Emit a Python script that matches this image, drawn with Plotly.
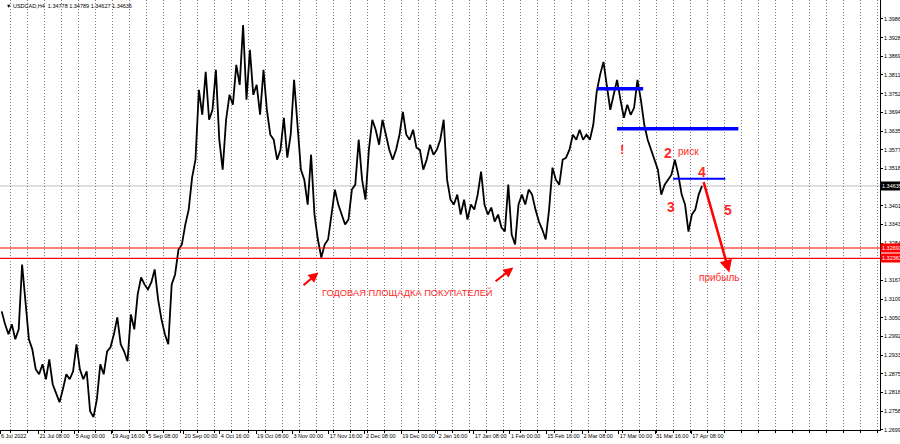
import plotly.graph_objects as go

# ---------------- data ----------------
# one sample per trading day (6 H4 bars), USDCAD H4
closes = [
    1.30706, 1.30299, 1.29987, 1.30299, 1.29831, 1.30143, 1.32175, 1.31081, 1.29831, 1.29518,
    1.28893, 1.28736, 1.29049, 1.28580, 1.29205, 1.28424, 1.28111, 1.27861, 1.28268, 1.28736,
    1.28580, 1.28830, 1.29674, 1.28893, 1.28580, 1.28830, 1.27580, 1.27392, 1.27955, 1.29049,
    1.28736, 1.29455, 1.29581, 1.29987, 1.30518, 1.29674, 1.29455, 1.29143, 1.30612, 1.30143,
    1.31237, 1.31769, 1.31550, 1.31394, 1.31612, 1.32019, 1.31081, 1.30456, 1.29987, 1.29674,
    1.31550, 1.31862, 1.32644, 1.32800, 1.33425, 1.33894, 1.34895, 1.35457, 1.37646, 1.36864,
    1.38208, 1.36708, 1.37020, 1.38271, 1.36083, 1.35145, 1.36708, 1.37489, 1.37177, 1.38427,
    1.37802, 1.39677, 1.37333, 1.38896, 1.37489, 1.37802, 1.36864, 1.38271, 1.37020, 1.36239,
    1.36083, 1.35457, 1.35770, 1.36770, 1.35520, 1.36239, 1.37958, 1.36395, 1.35145, 1.34832,
    1.34051, 1.35614, 1.33738, 1.32957, 1.32394, 1.32800, 1.32957, 1.33738, 1.34520, 1.34051,
    1.33738, 1.33425, 1.33582, 1.34520, 1.34676, 1.36083, 1.34832, 1.34207, 1.35770, 1.36708,
    1.36395, 1.35926, 1.36708, 1.36239, 1.35770, 1.35457, 1.35770, 1.36239, 1.36958, 1.36239,
    1.36083, 1.36395, 1.35833, 1.35770, 1.35145, 1.35457, 1.35926, 1.35614, 1.35770, 1.36083,
    1.36708, 1.34832, 1.34207, 1.34051, 1.34363, 1.33738, 1.34207, 1.33582, 1.34051, 1.33894,
    1.34363, 1.35082, 1.34051, 1.33738, 1.33957, 1.33519, 1.33738, 1.33332, 1.33207, 1.34676,
    1.33113, 1.32800, 1.34051, 1.34363, 1.34051, 1.34520, 1.34363, 1.33894, 1.33519, 1.33269,
    1.32957, 1.33894, 1.35207, 1.34832, 1.34676, 1.35457, 1.35520, 1.35770, 1.36239, 1.36083,
    1.36395, 1.36083, 1.36239, 1.36083, 1.36551, 1.37583, 1.38114, 1.38521, 1.37802, 1.37020,
    1.37489, 1.37958, 1.37333, 1.36770, 1.37177, 1.36864, 1.37083, 1.37958, 1.37333, 1.36551,
    1.36083, 1.35770, 1.35520, 1.35145, 1.34363, 1.34676, 1.34832, 1.34988, 1.35457, 1.34988,
    1.34363, 1.34051, 1.33207, 1.33738, 1.33894, 1.34363, 1.34635,
]
bars_per_sample = 6

x_labels = ["6 Jul 2022", "21 Jul 08:00", "5 Aug 00:00", "19 Aug 16:00", "5 Sep 08:00",
            "20 Sep 00:00", "4 Oct 16:00", "19 Oct 08:00", "3 Nov 00:00", "17 Nov 16:00",
            "2 Dec 08:00", "19 Dec 00:00", "2 Jan 16:00", "17 Jan 08:00", "1 Feb 00:00",
            "15 Feb 16:00", "2 Mar 08:00", "17 Mar 00:00", "31 Mar 16:00", "17 Apr 08:00"]
x_label_bars = [0, 68, 132, 196, 260, 324, 388, 452, 516, 580,
                644, 708, 772, 836, 900, 964, 1028, 1092, 1156, 1220]

y_ticks = [1.39865, 1.39280, 1.38695, 1.38110, 1.37525, 1.36940, 1.36355, 1.35770, 1.35185,
           1.34015, 1.33430, 1.32845, 1.31675, 1.31090, 1.30505, 1.29920, 1.29335,
           1.28750, 1.28165, 1.27580, 1.26995]

last_price = 1.34635
support_levels = [1.32691, 1.32363]
support_labels = ["1.32691", "1.32363"]

# blue levels: (start bar, end bar, price, width)
blue_levels = [(1054, 1135, 1.37677, 3.5), (1089, 1303, 1.36426, 3.5), (1188, 1280, 1.34863, 2)]

title_text = "\u25BC USDCAD,H4  1.34778 1.34789 1.34627 1.34635"

# ---------------- figure ----------------
x_vals = [i * bars_per_sample + 3 for i in range(len(closes))]

fig = go.Figure()
fig.add_trace(go.Scatter(x=x_vals, y=closes, mode="lines",
                         line=dict(color="black", width=1.8), hoverinfo="skip"))

shapes = []
# bid line
shapes.append(dict(type="line", xref="paper", x0=0, x1=1, yref="y", y0=last_price, y1=last_price,
                   line=dict(color="#c0c0c0", width=1), layer="below"))
for lvl in support_levels:
    shapes.append(dict(type="line", xref="paper", x0=0, x1=1, yref="y", y0=lvl, y1=lvl,
                       line=dict(color="#ff0000", width=1.2)))
for x0, x1, p, w in blue_levels:
    shapes.append(dict(type="line", xref="x", x0=x0, x1=x1, yref="y", y0=p, y1=p,
                       line=dict(color="#0000ff", width=w)))

red = "#ff2a2a"
ann = []
ann.append(dict(xref="paper", yref="paper", x=0.004, y=0.997, xanchor="left", yanchor="top",
                text=title_text, showarrow=False,
                font=dict(family="Liberation Sans", size=5.5, color="black")))
# axis price boxes
ann.append(dict(xref="paper", yref="y", x=1.0, y=last_price, xanchor="left", yanchor="middle",
                text=f"{last_price:.5f}", showarrow=False, bgcolor="black", borderpad=1,
                font=dict(family="Liberation Sans", size=5.5, color="white")))
for lvl, lab in zip(support_levels, support_labels):
    ann.append(dict(xref="paper", yref="y", x=1.0, y=lvl, xanchor="left", yanchor="middle",
                    text=lab, showarrow=False, bgcolor="#ff0000", borderpad=1,
                    font=dict(family="Liberation Sans", size=5.5, color="white")))

# arrows
ann.append(dict(xref="x", yref="y", axref="x", ayref="y", x=1287, y=1.31925, ax=1241, ay=1.34801,
                showarrow=True, arrowhead=2, arrowsize=1, arrowwidth=2.5, arrowcolor="#ff0000", text=""))
ann.append(dict(xref="x", yref="y", axref="x", ayref="y", x=562, y=1.31925, ax=533, ay=1.31487,
                showarrow=True, arrowhead=2, arrowsize=1, arrowwidth=2, arrowcolor="#ff0000", text=""))
ann.append(dict(xref="x", yref="y", axref="x", ayref="y", x=906, y=1.32081, ax=872, ay=1.31612,
                showarrow=True, arrowhead=2, arrowsize=1, arrowwidth=2, arrowcolor="#ff0000", text=""))

texts = [
    ("ГОДОВАЯ ПЛОЩАДКА ПОКУПАТЕЛЕЙ", 720, 1.31300, 9.3, False),
    ("!", 1098, 1.35770, 13, True),
    ("2", 1178, 1.35676, 14, True),
    ("риск", 1215, 1.35707, 10, False),
    ("4", 1238, 1.35082, 14, True),
    ("3", 1185, 1.33988, 14, True),
    ("5", 1285, 1.33894, 14, True),
    ("прибыль", 1270, 1.31769, 10, False),
]
for t, x, y, s, b in texts:
    ann.append(dict(xref="x", yref="y", x=x, y=y, text=f"<b>{t}</b>" if b else t,
                    showarrow=False, xanchor="center", yanchor="middle",
                    font=dict(family="Liberation Sans", size=s, color=red)))

fig.update_layout(
    width=900, height=444,
    margin=dict(l=0, r=20, t=0, b=14),
    paper_bgcolor="white", plot_bgcolor="white",
    showlegend=False,
    shapes=shapes, annotations=ann,
    xaxis=dict(range=[0, 1553], tickmode="array", tickvals=x_label_bars, ticktext=x_labels,
               ticks="outside", ticklen=3, tickcolor="black", showgrid=False, zeroline=False,
               showline=True, linecolor="black", linewidth=1, mirror=False,
               ticklabelposition="outside right", tickangle=0,
               tickfont=dict(family="Liberation Sans", size=5.5, color="black"),
               minor=dict(tickmode="linear", tick0=18, dtick=30, showgrid=True,
                          gridcolor="#808080", griddash="1px,2px", gridwidth=1,
                          ticks="outside", ticklen=2, tickcolor="black"),
               automargin=False),
    yaxis=dict(range=[1.26990, 1.40459], side="right", tickmode="array", tickvals=y_ticks,
               ticktext=[f"{v:.5f}" for v in y_ticks], ticks="outside", ticklen=2,
               tickcolor="black", showgrid=False, zeroline=False, showline=True,
               linecolor="black", linewidth=1,
               tickfont=dict(family="Liberation Sans", size=5.5, color="black"),
               automargin=False),
)

fig.write_html("out.html", config={"displayModeBar": False},
               post_script="document.body.style.margin='0';document.body.style.overflow='hidden';")
